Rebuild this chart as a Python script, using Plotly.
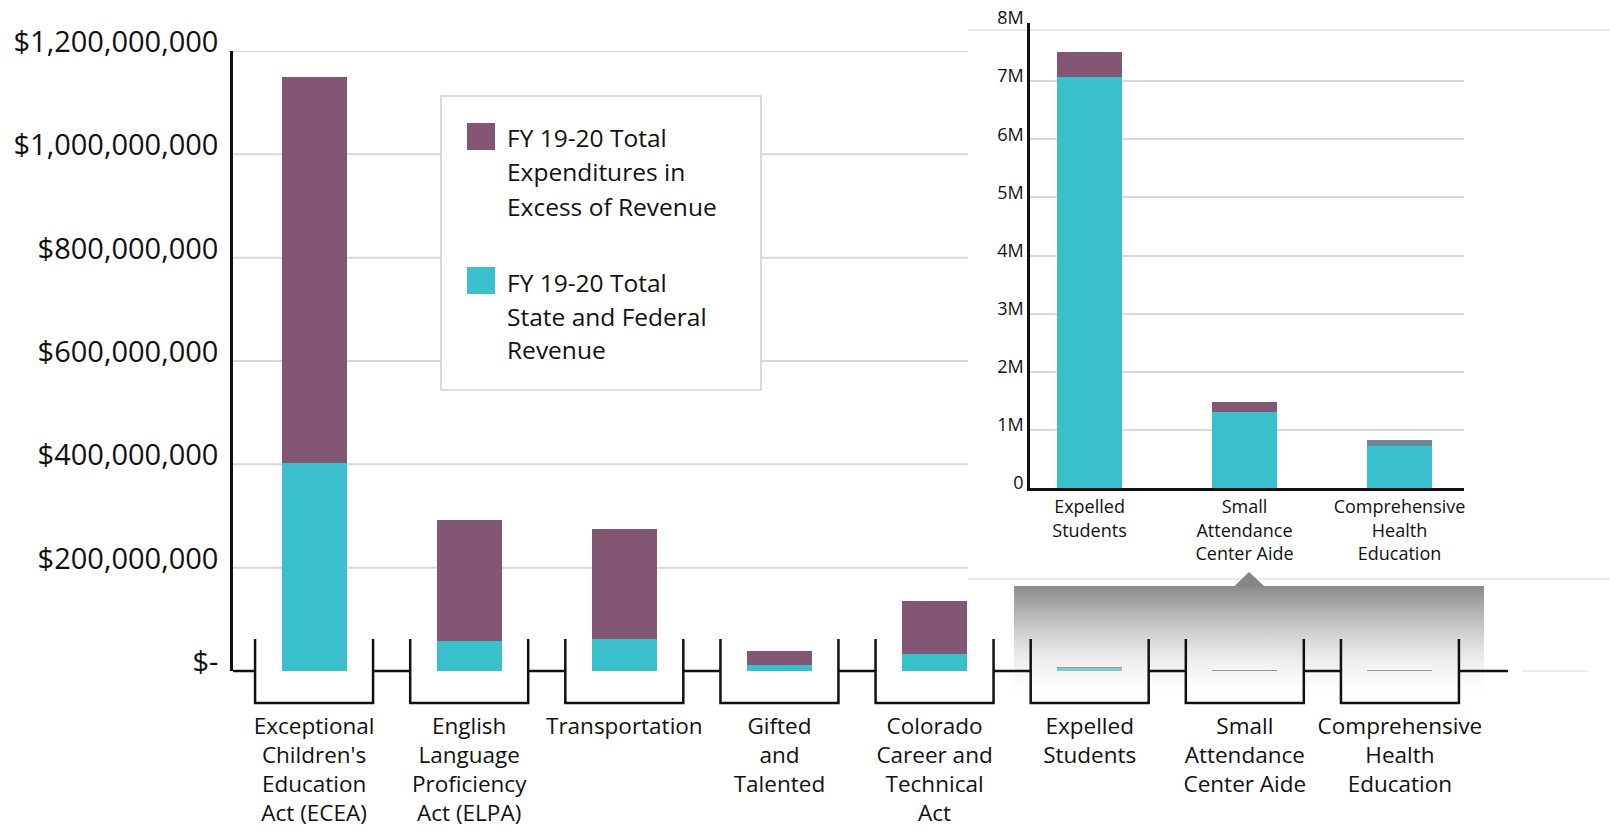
import plotly.graph_objects as go

# ---- data -------------------------------------------------------------
programs = [
    "Exceptional Children's Education Act (ECEA)",
    "English Language Proficiency Act (ELPA)",
    "Transportation",
    "Gifted and Talented",
    "Colorado Career and Technical Act",
    "Expelled Students",
    "Small Attendance Center Aide",
    "Comprehensive Health Education",
]
program_labels = [
    "Exceptional<br>Children's<br>Education<br>Act (ECEA)",
    "English<br>Language<br>Proficiency<br>Act (ELPA)",
    "Transportation",
    "Gifted<br>and<br>Talented",
    "Colorado<br>Career and<br>Technical<br>Act",
    "Expelled<br>Students",
    "Small<br>Attendance<br>Center Aide",
    "Comprehensive<br>Health<br>Education",
]
# FY 19-20 Total State and Federal Revenue
revenue = [402.5e6, 58.7e6, 62.5e6, 11.6e6, 33.0e6, 7.07e6, 1.31e6, 0.72e6]
# FY 19-20 Total Expenditures in Excess of Revenue
excess = [747.5e6, 233.3e6, 212.5e6, 27.1e6, 103.0e6, 0.43e6, 0.165e6, 0.11e6]

series_names = [
    "FY 19-20 Total Expenditures in Excess of Revenue",
    "FY 19-20 Total State and Federal Revenue",
]
legend_lines = [
    ["FY 19-20 Total", "Expenditures in", "Excess of Revenue"],
    ["FY 19-20 Total", "State and Federal", "Revenue"],
]

main_tickvals = [0, 200e6, 400e6, 600e6, 800e6, 1000e6, 1200e6]
main_ticktext = ["$-", "$200,000,000", "$400,000,000", "$600,000,000",
                 "$800,000,000", "$1,000,000,000", "$1,200,000,000"]
inset_tickvals = [0, 1e6, 2e6, 3e6, 4e6, 5e6, 6e6, 7e6, 8e6]
inset_ticktext = ["0", "1M", "2M", "3M", "4M", "5M", "6M", "7M", "8M"]

# the detail panel zooms in on the three smallest programs
inset_start = 5

# ---- styling ----------------------------------------------------------
W, H = 1610, 832
PURPLE = "#835673"
TEAL = "#39C0CC"
SLATE = "#6b8797"
GRID = "#d9d9d9"
FONT = "Open Sans"
TXT = "#111111"


def px(x):
    return x / W


def py(y):
    return 1 - y / H


MAIN_X = (233, 1477.5)
MAIN_RANGE = (-0.5226, 7.5)
MAIN_Y = (671, 51)
INSET_X = (1030, 1464)
INSET_RANGE = (-0.384, 2.416)
INSET_Y = (488, 23)


def cat_px(i):
    scale = (MAIN_X[1] - MAIN_X[0]) / (MAIN_RANGE[1] - MAIN_RANGE[0])
    return MAIN_X[0] + (i - MAIN_RANGE[0]) * scale


fig = go.Figure()

# main stacked bars
fig.add_trace(go.Bar(x=program_labels, y=revenue, name=series_names[1],
                     marker=dict(color=TEAL, line=dict(width=0)),
                     xaxis="x", yaxis="y", showlegend=False))
fig.add_trace(go.Bar(x=program_labels, y=excess, name=series_names[0],
                     marker=dict(color=PURPLE, line=dict(width=0)),
                     xaxis="x", yaxis="y", showlegend=False))

# detail panel bars
inset_labels = program_labels[inset_start:]
inset_excess_colors = [PURPLE, PURPLE, SLATE]
fig.add_trace(go.Bar(x=inset_labels, y=revenue[inset_start:], name=series_names[1],
                     marker=dict(color=TEAL, line=dict(width=0)),
                     xaxis="x3", yaxis="y3", showlegend=False))
fig.add_trace(go.Bar(x=inset_labels, y=excess[inset_start:], name=series_names[0],
                     marker=dict(color=inset_excess_colors, line=dict(width=0)),
                     xaxis="x3", yaxis="y3", showlegend=False))

# callout: gradient band over the small programs and its pointer
fig.add_trace(go.Scatter(
    x=[1014, 1484, 1484, 1014, 1014], y=[586, 586, 703, 703, 586],
    mode="lines", line=dict(width=0), fill="toself",
    fillgradient=dict(type="vertical", start=586, stop=703,
                      colorscale=[[0, "rgba(132,132,132,0.95)"],
                                  [0.45, "rgba(200,200,200,0.75)"],
                                  [1, "rgba(255,255,255,0)"]]),
    xaxis="x4", yaxis="y4", hoverinfo="skip", showlegend=False))
fig.add_trace(go.Scatter(
    x=[1234.5, 1249, 1264, 1234.5], y=[586, 572, 586, 586],
    mode="lines", line=dict(width=0), fill="toself", fillcolor="#858585",
    xaxis="x4", yaxis="y4", hoverinfo="skip", showlegend=False))

shapes = []
# main gridlines (stop where the detail panel begins)
for v in main_tickvals[1:]:
    shapes.append(dict(type="line", xref="paper", yref="y",
                       x0=px(MAIN_X[0]), x1=px(968), y0=v, y1=v,
                       line=dict(color=GRID, width=2), layer="below"))
# detail panel borders
for yy in (30, 579):
    shapes.append(dict(type="line", xref="paper", yref="paper",
                       x0=px(968), x1=1, y0=py(yy), y1=py(yy),
                       line=dict(color="#d3d3d3", width=1), layer="below"))
# legend box
shapes.append(dict(type="rect", xref="paper", yref="paper",
                   x0=px(441), x1=px(761), y0=py(390), y1=py(96),
                   fillcolor="white", line=dict(color="#d0d0d0", width=1.5),
                   layer="below"))
for sw_top, col in ((123, PURPLE), (267, TEAL)):
    shapes.append(dict(type="rect", xref="paper", yref="paper",
                       x0=px(467), x1=px(495), y0=py(sw_top + 27), y1=py(sw_top),
                       fillcolor=col, line=dict(width=0), layer="above"))

# category brackets joined along the zero line
ZERO, B_TOP, B_BOT, HALF = 671, 639, 703, 59
path = f"M {px(MAIN_X[0])},{py(ZERO)}"
for i in range(len(programs)):
    c = cat_px(i)
    l, r = c - HALF, c + HALF
    path += f" L {px(l)},{py(ZERO)}"
    path += f" M {px(l)},{py(B_TOP)} L {px(l)},{py(B_BOT)} L {px(r)},{py(B_BOT)} L {px(r)},{py(B_TOP)}"
    path += f" M {px(r)},{py(ZERO)}"
path += f" L {px(1508)},{py(ZERO)}"
shapes.append(dict(type="path", xref="paper", yref="paper", path=path,
                   line=dict(color="#111111", width=2.5), layer="above"))
shapes.append(dict(type="line", xref="paper", yref="paper",
                   x0=px(1522), x1=px(1588), y0=py(ZERO), y1=py(ZERO),
                   line=dict(color="#eeeeee", width=2), layer="below"))

annotations = []
leg_text_y = [[137, 172, 206], [282, 316, 350]]
for lines, ys in zip(legend_lines, leg_text_y):
    for t, yy in zip(lines, ys):
        annotations.append(dict(text=t, xref="paper", yref="paper",
                                x=px(505), y=py(yy), xanchor="left", yanchor="middle",
                                showarrow=False, font=dict(family=FONT, size=24.5, color=TXT)))

fig.update_layout(
    width=W, height=H,
    margin=dict(l=0, r=0, t=0, b=0, pad=0, autoexpand=False),
    paper_bgcolor="white", plot_bgcolor="rgba(0,0,0,0)",
    barmode="stack", bargap=0.581,
    showlegend=False,
    font=dict(family=FONT, color=TXT),
    xaxis=dict(domain=[px(MAIN_X[0]), px(MAIN_X[1])], range=list(MAIN_RANGE),
               type="category", anchor="y", showline=False, showgrid=False,
               zeroline=False, ticks="", tickfont=dict(size=22.5, color=TXT),
               ticklabelstandoff=39, automargin=False),
    yaxis=dict(domain=[py(MAIN_Y[0]), py(MAIN_Y[1])], range=[0, 1.2e9],
               anchor="x", showline=True, linecolor="#111111", linewidth=2.5,
               showgrid=False, zeroline=False, ticks="",
               tickvals=main_tickvals, ticktext=main_ticktext,
               tickfont=dict(size=29, color=TXT), automargin=False,
               ticklabelstandoff=6, ticklabelshift=-9),
    xaxis3=dict(domain=[px(INSET_X[0]), px(INSET_X[1])], range=list(INSET_RANGE),
                type="category", anchor="y3", showline=True, linecolor="#111111",
                linewidth=2.5, showgrid=False, zeroline=False, ticks="",
                tickfont=dict(size=18, color=TXT), ticklabelstandoff=1,
                automargin=False),
    yaxis3=dict(domain=[py(INSET_Y[0]), py(INSET_Y[1])], range=[0, 8e6],
                anchor="x3", showline=True, linecolor="#111111", linewidth=2.5,
                showgrid=True, gridcolor=GRID, gridwidth=2, zeroline=False,
                ticks="", tickvals=inset_tickvals, ticktext=inset_ticktext,
                tickfont=dict(size=18, color=TXT), automargin=False,
                ticklabelstandoff=0, ticklabelshift=-5),
    xaxis4=dict(domain=[0, 1], range=[0, W], anchor="y4", visible=False,
                fixedrange=True, automargin=False),
    yaxis4=dict(domain=[0, 1], range=[H, 0], anchor="x4", visible=False,
                fixedrange=True, automargin=False),
    shapes=shapes,
    annotations=annotations,
)

fig.write_html("out.html")
